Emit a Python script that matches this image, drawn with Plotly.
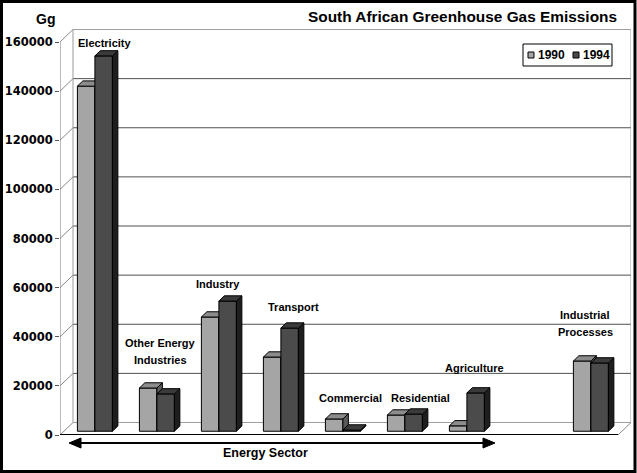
import plotly.graph_objects as go

# ---------------- data ----------------
categories = ["Electricity", "Other Energy<br>Industries", "Industry", "Transport",
              "Commercial", "Residential", "Agriculture", "Industrial<br>Processes"]
emissions_1990 = [140500, 17600, 46500, 30200, 5000, 6600, 2200, 28600]
emissions_1994 = [152800, 15200, 53000, 42000, 500, 7000, 15600, 27800]
series_names = ["1990", "1994"]
y_ticks = [0, 20000, 40000, 60000, 80000, 100000, 120000, 140000, 160000]
y_tick_labels = ["0", "20000", "40000", "60000", "80000", "100000", "120000", "140000", "160000"]
group_label = "Energy Sector"
unit_label = "Gg"
title_text = "South African Greenhouse Gas Emissions"

# ---------------- layout geometry ----------------
W, H = 637, 473
ML, MR, MT, MB = 60, 6, 28, 38
PW, PH = W - ML - MR, H - MT - MB
SLOT = 62.0                    # px per category slot
K = 393.0 / 160000.0           # px per Gg
XMAX, YMAX = PW / SLOT, PH / K
DX, DY = 13.0 / SLOT, 12.5 / K  # full depth offset in data units
N_SLOTS = 9
slot_index = [0, 1, 2, 3, 4, 5, 6, 8]
BAR_W = 17.5 / SLOT
F_FRONT, F_BACK = 0.3, 0.72

FONT = "Liberation Sans, Arial, sans-serif"
TICKFONT = "DejaVu Sans, sans-serif"

front_colors = ["#a5a5a5", "#4b4b4b"]
top_colors = ["#8c8c8c", "#3a3a3a"]
side_colors = ["#5a5a5a", "#1e1e1e"]


def xp(px):
    return (px - ML) / SLOT


def yp(py):
    return (H - MB - py) / K


def paper_x(px):
    return (px - ML) / PW


def paper_y(py):
    return (H - MB - py) / PH


fig = go.Figure()

for s, vals in enumerate([emissions_1990, emissions_1994]):
    xa, ya = ("x", "y") if s == 0 else ("x2", "y2")
    base = F_FRONT * DY
    lefts = [sl + 0.5 - BAR_W + s * BAR_W + F_FRONT * DX for sl in slot_index]
    centers = [l + BAR_W / 2 for l in lefts]
    fig.add_trace(go.Bar(
        x=centers, y=vals, base=[base] * len(vals), width=BAR_W,
        name=series_names[s], showlegend=False,
        marker=dict(color=front_colors[s], line=dict(color="black", width=1)),
        xaxis=xa, yaxis=ya, hoverinfo="skip"))
    ddx, ddy = (F_BACK - F_FRONT) * DX, (F_BACK - F_FRONT) * DY
    tx, ty, sx, sy = [], [], [], []
    for l, v in zip(lefts, vals):
        r = l + BAR_W
        top = base + v
        tx += [l, r, r + ddx, l + ddx, l, None]
        ty += [top, top, top + ddy, top + ddy, top, None]
        sx += [r, r + ddx, r + ddx, r, r, None]
        sy += [base, base + ddy, top + ddy, top, base, None]
    fig.add_trace(go.Scatter(x=sx, y=sy, mode="lines", fill="toself",
                             fillcolor=side_colors[s], line=dict(color="black", width=1),
                             showlegend=False, hoverinfo="skip", xaxis=xa, yaxis=ya))
    fig.add_trace(go.Scatter(x=tx, y=ty, mode="lines", fill="toself",
                             fillcolor=top_colors[s], line=dict(color="black", width=1),
                             showlegend=False, hoverinfo="skip", xaxis=xa, yaxis=ya))

shapes = []


def dline(x0, y0, x1, y1, color, width=1, ref=("x", "y")):
    shapes.append(dict(type="line", xref=ref[0], yref=ref[1], x0=x0, y0=y0, x1=x1, y1=y1,
                       line=dict(color=color, width=width), layer="below"))


top_v = y_ticks[-1]
for v in y_ticks:
    col = "#a0a0a0" if v in (0, top_v) else "#505050"
    dline(DX, v + DY, N_SLOTS + DX, v + DY, col)
    dline(0, v, DX, v + DY, "#8a8a8a")
dline(DX, DY, DX, top_v + DY, "#9a9a9a")
dline(N_SLOTS + DX, DY, N_SLOTS + DX, top_v + DY, "#a0a0a0")
dline(N_SLOTS, 0, N_SLOTS + DX, DY, "#8a8a8a")
dline(0, 0, 0, top_v, "#7a7a7a")
dline(0, 0, N_SLOTS, 0, "black", 2)

# arrow under the energy sector
ay = paper_y(443)
shapes.append(dict(type="line", xref="paper", yref="paper", x0=paper_x(78), x1=paper_x(486),
                   y0=ay, y1=ay, line=dict(color="black", width=2)))
for tip, back in [(69, 81), (495, 483)]:
    shapes.append(dict(type="path", xref="paper", yref="paper",
                       path=f"M{paper_x(tip)},{ay} L{paper_x(back)},{paper_y(438)} "
                            f"L{paper_x(back)},{paper_y(448)} Z",
                       fillcolor="black", line=dict(color="black", width=1)))

# legend box
shapes.append(dict(type="rect", xref="paper", yref="paper",
                   x0=paper_x(523), x1=paper_x(612), y0=paper_y(66), y1=paper_y(44),
                   line=dict(color="black", width=1), fillcolor="white"))
for s, px0 in enumerate([528, 573]):
    shapes.append(dict(type="rect", xref="paper", yref="paper",
                       x0=paper_x(px0), x1=paper_x(px0 + 6), y0=paper_y(58), y1=paper_y(52),
                       line=dict(color="black", width=1), fillcolor=front_colors[s]))

# outer frame
shapes.append(dict(type="rect", xref="paper", yref="paper",
                   x0=paper_x(1.5), x1=paper_x(W - 2), y0=paper_y(H - 1.5), y1=paper_y(1.5),
                   line=dict(color="black", width=3)))

annotations = []
label_pos = [(104, 43), (160, 351), (218, 284), (293, 307),
             (350, 398), (420, 398), (474, 368), (585, 323)]
for text, (px, py) in zip(categories, label_pos):
    lines = text.split("<br>")
    n = len(lines)
    for j, ln in enumerate(lines):
        yy = py + (j - (n - 1) / 2) * 17
        annotations.append(dict(text=ln, x=xp(px), y=yp(yy), xref="x", yref="y",
                                showarrow=False, xanchor="center", yanchor="middle",
                                font=dict(family=FONT, size=11, color="black", weight="bold")))
annotations.append(dict(text=group_label, x=paper_x(265), y=paper_y(462), xref="paper", yref="paper",
                        showarrow=False, font=dict(family=FONT, size=12.5, color="black", weight="bold")))
annotations.append(dict(text=unit_label, x=paper_x(34), y=paper_y(9), xref="paper", yref="paper",
                        showarrow=False, font=dict(family=FONT, size=14, color="black", weight="bold")))
for s, px0 in enumerate([536, 581]):
    annotations.append(dict(text=series_names[s], x=paper_x(px0), y=paper_y(55),
                            xref="paper", yref="paper", xanchor="left", yanchor="middle",
                            showarrow=False,
                            font=dict(family=FONT, size=12, color="black", weight="bold")))

fig.update_layout(
    width=W, height=H,
    margin=dict(l=ML, r=MR, t=MT, b=MB, pad=0),
    paper_bgcolor="white", plot_bgcolor="white",
    barmode="overlay", showlegend=False,
    title=dict(text=title_text, x=617 / W, xref="container", xanchor="right",
               y=1 - 17 / H, yref="container", yanchor="middle",
               font=dict(family=FONT, size=15.4, color="black", weight="bold")),
    xaxis=dict(range=[0, XMAX], visible=False, fixedrange=True),
    xaxis2=dict(range=[0, XMAX], visible=False, overlaying="x", fixedrange=True),
    yaxis=dict(range=[0, YMAX], tickvals=y_ticks, ticktext=y_tick_labels,
               ticks="outside", ticklen=4, tickcolor="#555555", showgrid=False,
               zeroline=False, showline=False, fixedrange=True,
               tickfont=dict(family=TICKFONT, size=11.5, color="black", weight="bold")),
    yaxis2=dict(range=[0, YMAX], visible=False, overlaying="y", fixedrange=True),
    shapes=shapes, annotations=annotations,
)

fig.write_html("out.html")
